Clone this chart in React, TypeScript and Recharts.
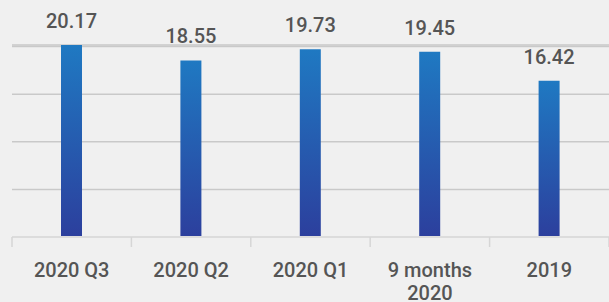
import React from "react";
import { BarChart, Bar, XAxis, YAxis, CartesianGrid, LabelList } from "recharts";

const categories = ["2020 Q3", "2020 Q2", "2020 Q1", "9 months 2020", "2019"];
const values = [20.17, 18.55, 19.73, 19.45, 16.42];
const yTicks = [0, 5, 10, 15, 20];

const data = categories.map((name, i) => ({ name, value: values[i] }));

// long labels break after the second word, like the original
const splitLabel = (label: string) => {
  const words = String(label).split(" ");
  if (words.length <= 2) return [label];
  return [words.slice(0, 2).join(" "), words.slice(2).join(" ")];
};

const CategoryTick = (props: any) => {
  const { x, y, payload, index } = props;
  const half = payload && payload.offset ? payload.offset : 59.7;
  const lines = splitLabel(payload.value);
  return (
    <g>
      <line x1={x - half} x2={x - half} y1={y - 8} y2={y + 2} stroke="#d6d6d6" strokeWidth={1.5} />
      {index === categories.length - 1 && (
        <line x1={x + half} x2={x + half} y1={y - 8} y2={y + 2} stroke="#d6d6d6" strokeWidth={1.5} />
      )}
      <text
        x={x}
        y={y + 32}
        textAnchor="middle"
        fill="#555555"
        fontSize={20}
        fontWeight={500}
        fontFamily="Roboto"
      >
        {lines.map((l, i) => (
          <tspan key={i} x={x} dy={i === 0 ? 0 : 23}>
            {l}
          </tspan>
        ))}
      </text>
    </g>
  );
};

const App: React.FC = () => {
  return (
    <div style={{ position: "absolute", left: 0, top: 0, width: 609, height: 302, background: "#f0f0f0" }}>
      <BarChart
        width={609}
        height={302}
        data={data}
        margin={{ top: 45, right: 0, left: 12, bottom: 0 }}
        barSize={21}
      >
        <defs>
          <linearGradient id="barFill" x1="0" y1="0" x2="0" y2="1">
            <stop offset="0%" stopColor="#1f79c2" />
            <stop offset="100%" stopColor="#2c3f9d" />
          </linearGradient>
        </defs>
        <CartesianGrid vertical={false} stroke="#c9c9c9" strokeWidth={1.5} />
        <YAxis hide width={0} domain={[0, "dataMax"]} ticks={yTicks} />
        <XAxis
          dataKey="name"
          height={65}
          axisLine={{ stroke: "#dcdcdc", strokeWidth: 2 }}
          tickLine={false}
          tick={<CategoryTick />}
          interval={0}
        />
        <Bar dataKey="value" fill="url(#barFill)" isAnimationActive={false}>
          <LabelList
            dataKey="value"
            position="top"
            offset={17}
            fill="#555555"
            fontSize={20}
            fontWeight={500}
            fontFamily="Roboto"
          />
        </Bar>
      </BarChart>
    </div>
  );
};

export default App;
